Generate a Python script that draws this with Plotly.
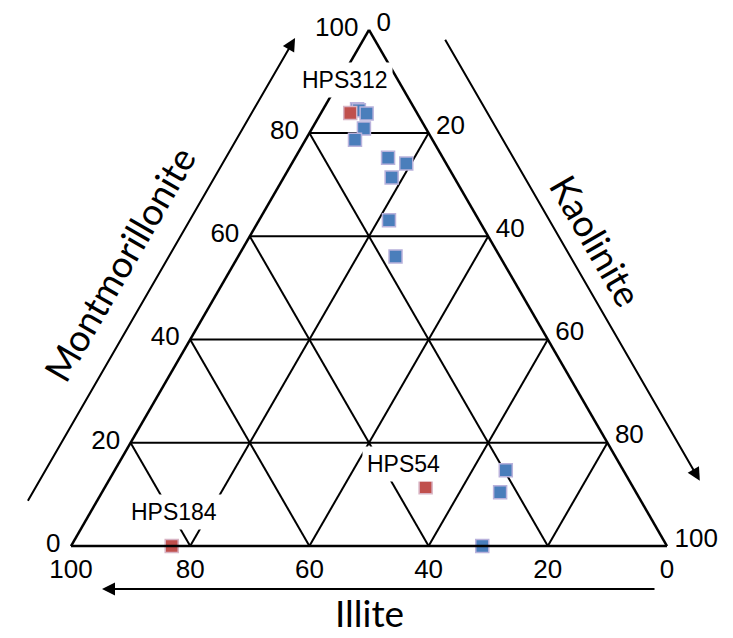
import math
import plotly.graph_objects as go

# ---------------- data (percent) ----------------
blue_montmorillonite = [84.6, 84.4, 83.8, 80.9, 78.7, 75.2, 74.1, 71.4, 63.1, 56.1, 14.7, 10.4, 0.0]
blue_illite          = [9.7, 9.5, 8.5, 10.4, 13.0, 9.2, 6.7, 10.5, 15.1, 17.5, 19.7, 22.8, 31.0]
blue_kaolinite       = [5.7, 6.1, 7.7, 8.7, 8.3, 15.6, 19.2, 18.1, 21.8, 26.4, 65.6, 66.8, 69.0]

red_names           = ["HPS312", "HPS54", "HPS184"]
red_montmorillonite = [83.9, 11.4, 0.0]
red_illite          = [11.2, 34.8, 83.1]
red_kaolinite       = [4.9, 53.8, 16.9]

tick_vals = [0, 20, 40, 60, 80, 100]
tick_text = ["0", "20", "40", "60", "80", "100"]

# ---------------- geometry (screen pixels) ----------------
OFF = 8                      # page body margin
FW, FH = 733 - OFF, 638 - OFF
W = 596.0
X0 = 369.0 - W / 2
H = W * math.sqrt(3) / 2
YB = 546.0
YA = YB - H

def to_px(a, b, c):
    s = a + b + c
    fa, fc = a / s, c / s
    return X0 + W * (fc + fa / 2), YB - H * fa

def paper(x, y):
    return (x - OFF) / FW, 1 - (y - OFF) / FH

fig = go.Figure()

marker_common = dict(symbol="square", size=13)
fig.add_trace(go.Scatterternary(
    a=blue_montmorillonite, b=blue_illite, c=blue_kaolinite,
    mode="markers", cliponaxis=False,
    marker=dict(color="#4a7ebb", line=dict(color="#b9b2dc", width=1.5), **marker_common),
    hoverinfo="a+b+c", showlegend=False))
fig.add_trace(go.Scatterternary(
    a=red_montmorillonite, b=red_illite, c=red_kaolinite,
    mode="markers", cliponaxis=False, text=red_names,
    marker=dict(color="#c0504d", line=dict(color="#d8b4c4", width=1.5), **marker_common),
    hoverinfo="text+a+b+c", showlegend=False))

axis_common = dict(
    min=0, tickmode="array", tickvals=tick_vals, ticktext=tick_text,
    tickfont=dict(family="Liberation Sans, Arial", size=26, color="black"),
    linecolor="black", linewidth=2.5, gridcolor="black", gridwidth=1.5,
    showgrid=True, ticks="outside", ticklen=6, tickcolor="rgba(0,0,0,0)",
    title=dict(text=""),
)
baxis = dict(axis_common, ticks="", ticklen=0)

dx0, dx1 = paper(X0, YB)[0], paper(X0 + W, YB)[0]
dy0, dy1 = paper(X0, YB)[1], paper(X0, YA)[1]
fig.update_layout(
    width=FW, height=FH,
    margin=dict(l=0, r=0, t=0, b=0),
    paper_bgcolor="white",
    ternary=dict(
        sum=100,
        domain=dict(x=[dx0, dx1], y=[dy0, dy1]),
        bgcolor="white",
        aaxis=axis_common, baxis=baxis, caxis=axis_common,
    ),
)

annotations = []
# sample labels with white backgrounds
label_shift = {"HPS312": (-5, 33), "HPS54": (-22, 23), "HPS184": (2, 34)}
for n, a, b, c in zip(red_names, red_montmorillonite, red_illite, red_kaolinite):
    xp, yp = paper(*to_px(a, b, c))
    dx, dy = label_shift[n]
    annotations.append(dict(
        x=xp, y=yp, xref="paper", yref="paper", text=n, showarrow=False,
        xanchor="center", yanchor="middle",
        xshift=dx, yshift=dy, bgcolor="white", borderpad=4,
        font=dict(family="Liberation Sans, Arial", size=23, color="black")))

# axis arrows parallel to triangle sides
BL = (X0, YB)
BR = (X0 + W, YB)
AP = (X0 + W / 2, YA)
def along(p, d, t, n, off):
    return (p[0] + d[0] * t + n[0] * off, p[1] + d[1] * t + n[1] * off)

s60 = math.sqrt(3) / 2
def arrow(tail, head):
    hx, hy = paper(*head)
    annotations.append(dict(
        x=hx, y=hy, xref="paper", yref="paper", text="", showarrow=True,
        ax=tail[0] - head[0], ay=tail[1] - head[1], axref="pixel", ayref="pixel",
        arrowhead=2, arrowsize=1.3, arrowwidth=2, arrowcolor="black"))

dl, nl = (0.5, -s60), (-s60, -0.5)
arrow(along(BL, dl, 16, nl, 60), along(BL, dl, 552, nl, 60))
dr, nr = (0.5, s60), (s60, -0.5)
arrow(along(AP, dr, 45, nr, 61), along(AP, dr, 556, nr, 61))
arrow((BR[0] - 11, YB + 43), (BL[0] + 31, YB + 43))

# axis titles
title_font = dict(family="Lato", size=37, color="black")
def title(text, pos, angle):
    xp, yp = paper(*pos)
    annotations.append(dict(x=xp, y=yp, xref="paper", yref="paper", text=text,
                            showarrow=False, textangle=angle, xanchor="center",
                            yanchor="middle", font=title_font))

mx, my = (BL[0] + AP[0]) / 2, (BL[1] + AP[1]) / 2
title("Montmorillonite", along((mx, my), dl, -29, nl, 100), -60)
mx, my = (AP[0] + BR[0]) / 2, (AP[1] + BR[1]) / 2
title("Kaolinite", along((mx, my), dr, -2, nr, 92), 60)
title("Illite", ((BL[0] + BR[0]) / 2, YB + 66), 0)

fig.update_layout(annotations=annotations)
fig.write_html("out.html")
